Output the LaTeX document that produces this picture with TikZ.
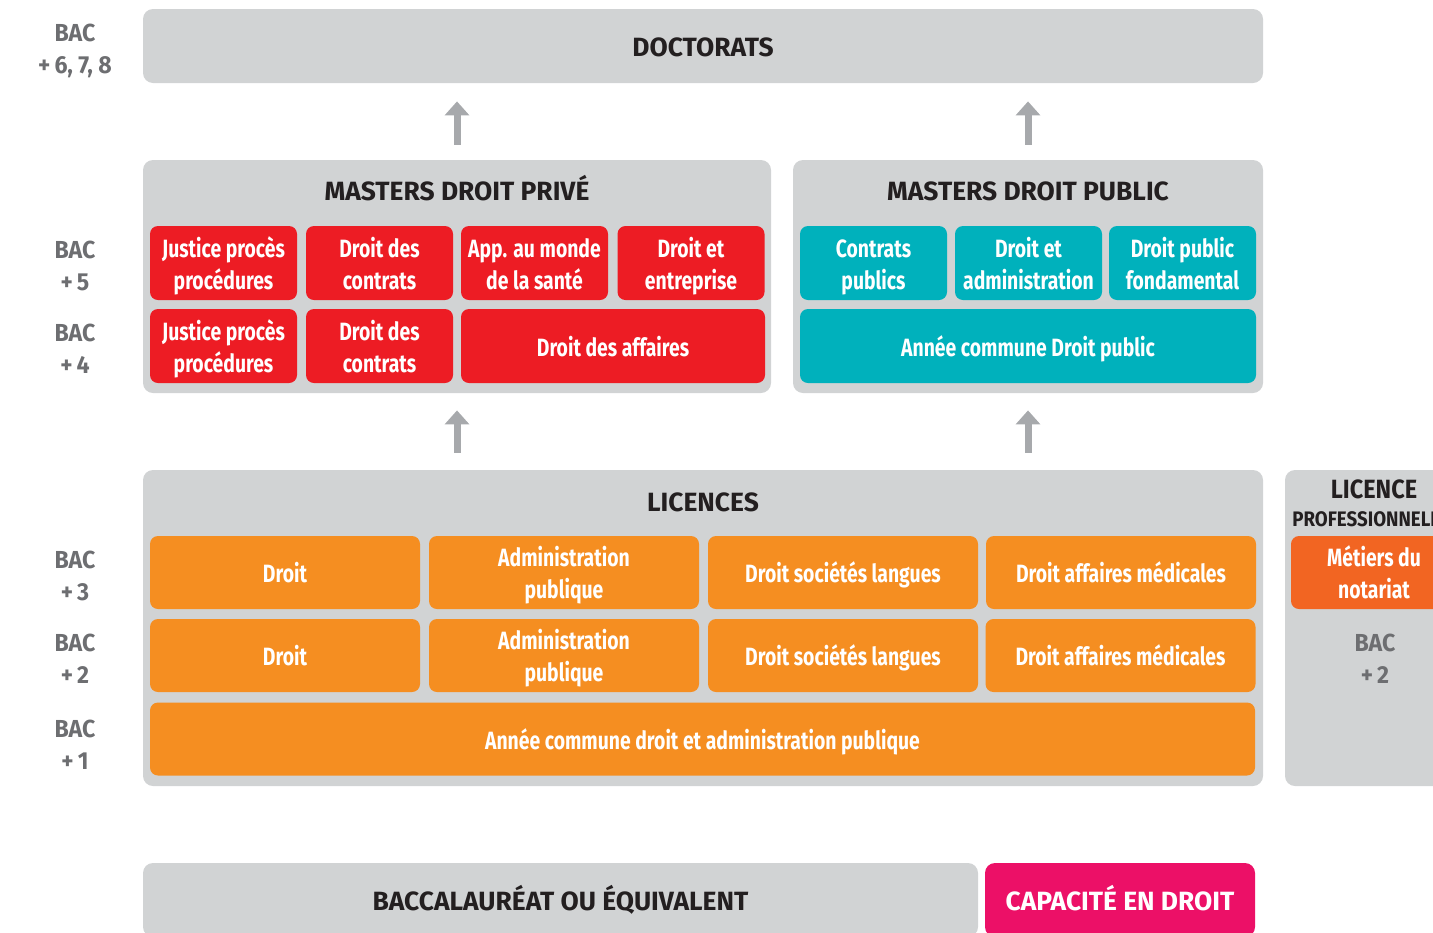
\documentclass[tikz,border=0pt]{standalone}
\usepackage{fontspec}
\setmainfont{Fira Sans}
\newfontfamily\cnd[FakeStretch=0.775]{Fira Sans}
\newfontfamily\hdf{Fira Sans}
\newfontfamily\prf[FakeStretch=0.89]{Fira Sans}
\newfontfamily\bcf[FakeStretch=0.94]{Fira Sans}
\usetikzlibrary{arrows.meta}
\definecolor{panel}{HTML}{D1D3D4}
\definecolor{cred}{HTML}{ED1C24}
\definecolor{cteal}{HTML}{00B1BC}
\definecolor{corange}{HTML}{F58E21}
\definecolor{cdorange}{HTML}{F26522}
\definecolor{cpink}{HTML}{EC1067}
\definecolor{graytxt}{HTML}{6D6E71}
\definecolor{darktxt}{HTML}{231F20}
\definecolor{arrowgray}{HTML}{A7A9AC}
\newcommand{\cst}{\rule[-3pt]{0pt}{16pt}}
\begin{document}
\begin{tikzpicture}[x=0.5pt,y=-0.5pt,
  panelbox/.style={fill=panel, rounded corners=5pt, inner sep=0pt, draw=none},
  cell/.style={rounded corners=4pt, inner sep=0pt, text=white, align=center,
    font=\cnd\bfseries\fontsize{12.5}{16}\selectfont},
  redcell/.style={cell, fill=cred, minimum width=73.5pt, minimum height=37pt},
  tealcell/.style={cell, fill=cteal, minimum width=73.5pt, minimum height=37pt},
  orcell/.style={cell, fill=corange, minimum width=135pt, minimum height=36.5pt},
  ttl/.style={font=\hdf\bfseries\fontsize{13.2}{15}\selectfont, text=darktxt, inner sep=0pt, anchor=base},
  bac/.style={font=\bcf\bfseries\fontsize{12.3}{16}\selectfont, text=graytxt, align=center, inner sep=0pt},
  uparrow/.style={draw=arrowgray, line width=3.5pt, -{Triangle[width=12pt,length=7pt]}}
]
\useasboundingbox (0,0) rectangle (1433,932);
\clip (0,0) rectangle (1433,932);

% panels
\node[panelbox, minimum width=560pt, minimum height=37pt] (doct) at (703,46) {};
\node[ttl] (doctt) at (703,56) {DOCTORATS};

\node[panelbox, minimum width=314pt, minimum height=116.5pt] (mpriv) at (457,276.5) {};
\node[ttl] (mprivt) at (457,200) {MASTERS DROIT PRIVÉ};
\node[panelbox, minimum width=235pt, minimum height=116.5pt] (mpub) at (1028,276.5) {};
\node[ttl] (mpubt) at (1028,200) {MASTERS DROIT PUBLIC};

\node[panelbox, minimum width=560pt, minimum height=158pt] (lic) at (703,628) {};
\node[ttl] (lict) at (703,511) {LICENCES};

\node[panelbox, minimum width=89pt, minimum height=158pt] (lpro) at (1374,628) {};
\node[ttl, font=\prf\bfseries\fontsize{13.2}{15}\selectfont] (lprot1) at (1374,498) {LICENCE};
\node[ttl, anchor=base west, font=\prf\bfseries\fontsize{10.5}{12}\selectfont] (lprot2) at (1292,526) {PROFESSIONNELLE};

\node[panelbox, minimum width=417.5pt, minimum height=37pt] (bacc) at (560.5,900) {};
\node[ttl] (bacct) at (560.5,910) {BACCALAURÉAT OU ÉQUIVALENT};
\node[panelbox, fill=cpink, minimum width=135pt, minimum height=37pt] (capa) at (1120,900) {};
\node[ttl, text=white] (capat) at (1120,910) {CAPACITÉ EN DROIT};

% masters droit privé
\node[redcell] (r11) at (223.5,263) {Justice procès\cst\\procédures\cst};
\node[redcell] (r12) at (379.5,263) {Droit des\cst\\contrats\cst};
\node[redcell] (r13) at (534.5,263) {App. au monde\cst\\de la santé\cst};
\node[redcell] (r14) at (691,263) {Droit et\cst\\entreprise\cst};
\node[redcell] (r21) at (223.5,346) {Justice procès\cst\\procédures\cst};
\node[redcell] (r22) at (379.5,346) {Droit des\cst\\contrats\cst};
\node[redcell, minimum width=152pt] (r23) at (613,346) {Droit des affaires\cst};

% masters droit public
\node[tealcell] (t11) at (873.5,263) {Contrats\cst\\publics\cst};
\node[tealcell] (t12) at (1028.5,263) {Droit et\cst\\administration\cst};
\node[tealcell] (t13) at (1182.5,263) {Droit public\cst\\fondamental\cst};
\node[tealcell, minimum width=228pt] (t21) at (1028,346) {Année commune Droit public\cst};

% licences
\node[orcell] (o11) at (285,572.5) {Droit\cst};
\node[orcell] (o12) at (564,572.5) {Administration\cst\\publique\cst};
\node[orcell] (o13) at (843,572.5) {Droit sociétés langues\cst};
\node[orcell] (o14) at (1121,572.5) {Droit affaires médicales\cst};
\node[orcell] (o21) at (285,655.5) {Droit\cst};
\node[orcell] (o22) at (564,655.5) {Administration\cst\\publique\cst};
\node[orcell] (o23) at (843,655.5) {Droit sociétés langues\cst};
\node[orcell] (o24) at (1120.5,655.5) {Droit affaires médicales\cst};
\node[orcell, minimum width=552.5pt] (o31) at (702.5,739) {Année commune droit et administration publique\cst};

% licence pro
\node[orcell, fill=cdorange, minimum width=83pt] (lp1) at (1374,572.5) {Métiers du\cst\\notariat\cst};
\node[bac] (lpbac) at (1375,657) {BAC\cst\\+\,2\cst};

% BAC labels
\node[bac] (b678) at (75,47) {BAC\cst\\+\,6, 7, 8\cst};
\node[bac] (b5) at (75,264) {BAC\cst\\+\,5\cst};
\node[bac] (b4) at (75,347) {BAC\cst\\+\,4\cst};
\node[bac] (b3) at (75,574.5) {BAC\cst\\+\,3\cst};
\node[bac] (b2) at (75,657.5) {BAC\cst\\+\,2\cst};
\node[bac] (b1) at (75,743.5) {BAC\cst\\+\,1\cst};

% arrows
\draw[uparrow, shorten <=7.5pt, shorten >=9pt] (mpriv.north) -- (mpriv.north |- doct.south);
\draw[uparrow, shorten <=7.5pt, shorten >=9pt] (mpub.north) -- (mpub.north |- doct.south);
\draw[uparrow, shorten <=8.5pt, shorten >=8.5pt] (mpriv.south |- lic.north) -- (mpriv.south);
\draw[uparrow, shorten <=8.5pt, shorten >=8.5pt] (mpub.south |- lic.north) -- (mpub.south);
\end{tikzpicture}
\end{document}
